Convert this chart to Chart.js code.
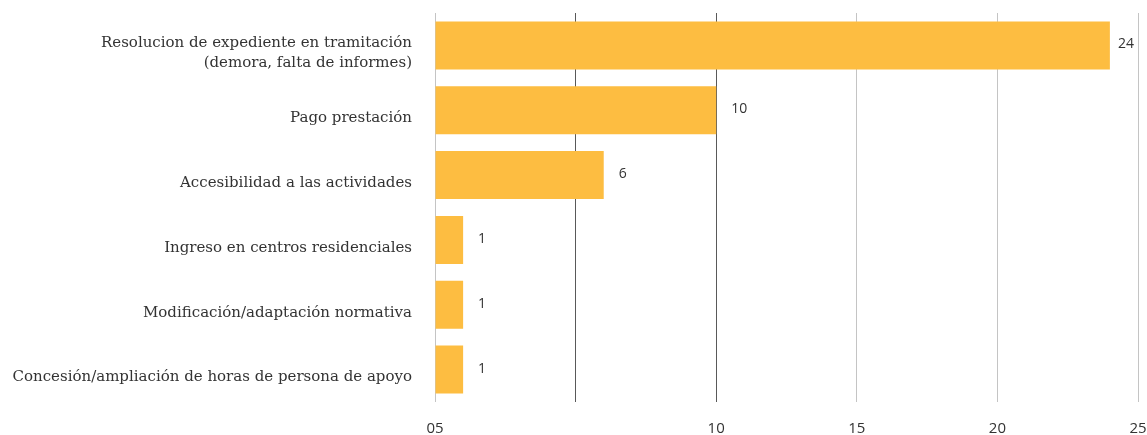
<!DOCTYPE html>
<html>
<head>
<meta charset="utf-8">
<script src="https://cdn.jsdelivr.net/npm/chart.js@4"></script>
<style>
  html, body { margin: 0; padding: 0; background: #fff; }
  #wrap { width: 1147px; height: 435px; position: relative; }
</style>
</head>
<body>
<div id="wrap"><canvas id="c"></canvas></div>
<script>
// Categories (top to bottom) and counts
const categories = [
  ["Resolucion de expediente en tramitación", "(demora, falta de informes)"],
  "Pago prestación",
  "Accesibilidad a las actividades",
  "Ingreso en centros residenciales",
  "Modificación/adaptación normativa",
  "Concesión/ampliación de horas de persona de apoyo"
];
const counts = [24, 10, 6, 1, 1, 1];

// X axis tick labels, one per tick from 0 to 25 by 5
const tickLabels = ["05", "", "10", "15", "20", "25"];

const BAR_COLOR = "#FDBD41";
const gridColors = ["#c4c4c4", "#595959", "#595959", "#c4c4c4", "#c4c4c4", "#c4c4c4"];

// Writes each bar's value just right of its end
const valueLabels = {
  id: "valueLabels",
  afterDatasetsDraw(chart) {
    const ctx = chart.ctx;
    const meta = chart.getDatasetMeta(0);
    const right = chart.chartArea.right;
    ctx.save();
    ctx.font = "14px 'Open Sans', sans-serif";
    ctx.fillStyle = "#333333";
    ctx.textAlign = "left";
    ctx.textBaseline = "middle";
    meta.data.forEach((bar, i) => {
      const x = Math.min(bar.x + 15, right - 20);
      ctx.fillText(String(counts[i]), x, bar.y - 1);
    });
    ctx.restore();
  }
};

new Chart(document.getElementById("c"), {
  type: "bar",
  data: {
    labels: categories,
    datasets: [{
      data: counts,
      backgroundColor: BAR_COLOR,
      borderWidth: 0,
      categoryPercentage: 1.0,
      barPercentage: 0.74
    }]
  },
  options: {
    indexAxis: "y",
    responsive: true,
    maintainAspectRatio: false,
    animation: false,
    layout: { padding: { top: 13, right: 9, bottom: 0, left: 0 } },
    plugins: {
      legend: { display: false },
      tooltip: { enabled: false }
    },
    scales: {
      x: {
        min: 0,
        max: 25,
        ticks: {
          stepSize: 5,
          font: { family: "'Open Sans', sans-serif", size: 15 },
          color: "#333333",
          padding: 18,
          maxRotation: 0,
          callback: (v, i) => tickLabels[i]
        },
        grid: {
          color: (ctx) => gridColors[ctx.index] || "#c4c4c4",
          lineWidth: 1,
          drawTicks: false
        },
        border: { display: false },
        afterFit(scale) {
          scale.height = 33;
          scale.paddingLeft = 0;
          scale.paddingRight = 0;
        }
      },
      y: {
        ticks: {
          font: { family: "'DejaVu Serif', serif", size: 15, lineHeight: 1.33 },
          color: "#333333",
          padding: 23,
          labelOffset: 8,
          crossAlign: "near"
        },
        grid: { display: false, drawTicks: false },
        border: { display: false },
        afterFit(scale) {
          scale.width = 435;
          scale.paddingTop = 0;
          scale.paddingBottom = 0;
        }
      }
    }
  },
  plugins: [valueLabels]
});
</script>
</body>
</html>
